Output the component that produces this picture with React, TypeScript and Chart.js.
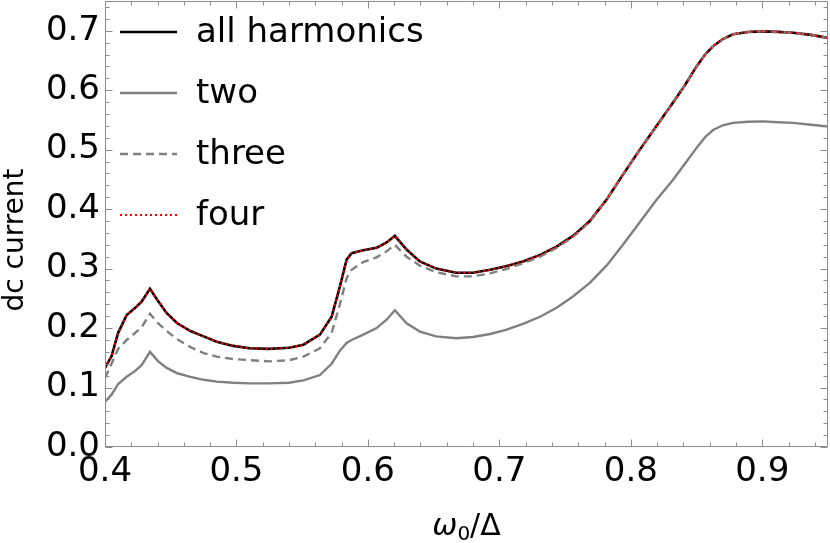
import { useEffect, useRef } from 'react';
import { Chart, registerables } from 'chart.js';

Chart.register(...registerables);

// x values (omega_0 / Delta)
const omega = [
  0.400, 0.405, 0.410, 0.4165, 0.423, 0.428, 0.4342, 0.4405, 0.447, 0.455,
  0.465, 0.475, 0.485, 0.4975, 0.510, 0.525, 0.540, 0.551, 0.5635, 0.5724,
  0.5787, 0.5838, 0.5876, 0.5965, 0.6066, 0.6142, 0.6205, 0.6294, 0.6395, 0.652,
  0.667, 0.680, 0.693, 0.705, 0.718, 0.731, 0.7435, 0.756, 0.7688, 0.7815,
  0.794, 0.8068, 0.819, 0.832, 0.841, 0.850, 0.8565, 0.8626, 0.870, 0.8778,
  0.889, 0.9006, 0.912, 0.9234, 0.937, 0.950,
];

const allHarmonics = [
  0.133, 0.153, 0.192, 0.222, 0.234, 0.245, 0.266, 0.245, 0.225, 0.208,
  0.195, 0.186, 0.177, 0.170, 0.166, 0.165, 0.167, 0.172, 0.189, 0.219,
  0.270, 0.315, 0.326, 0.331, 0.335, 0.344, 0.355, 0.332, 0.312, 0.300,
  0.293, 0.293, 0.298, 0.304, 0.312, 0.323, 0.337, 0.355, 0.380, 0.416,
  0.458, 0.500, 0.538, 0.579, 0.608, 0.640, 0.660, 0.674, 0.686, 0.694,
  0.698, 0.699, 0.698, 0.6965, 0.693, 0.688,
];

const two = [
  0.076, 0.088, 0.106, 0.118, 0.128, 0.138, 0.160, 0.144, 0.133, 0.124,
  0.118, 0.113, 0.110, 0.108, 0.107, 0.107, 0.108, 0.112, 0.121, 0.140,
  0.162, 0.175, 0.180, 0.189, 0.200, 0.214, 0.230, 0.208, 0.194, 0.186,
  0.183, 0.185, 0.190, 0.197, 0.207, 0.219, 0.234, 0.253, 0.276, 0.305,
  0.340, 0.378, 0.414, 0.449, 0.476, 0.503, 0.521, 0.533, 0.541, 0.545,
  0.547, 0.5475, 0.546, 0.545, 0.542, 0.539,
];

const three = [
  0.116, 0.140, 0.165, 0.180, 0.192, 0.202, 0.224, 0.208, 0.195, 0.181,
  0.168, 0.158, 0.152, 0.148, 0.146, 0.144, 0.146, 0.152, 0.166, 0.192,
  0.240, 0.284, 0.298, 0.311, 0.319, 0.329, 0.340, 0.320, 0.305, 0.294,
  0.287, 0.287, 0.292, 0.299, 0.309, 0.320, 0.335, 0.353, 0.379, 0.416,
  0.458, 0.500, 0.538, 0.579, 0.608, 0.640, 0.660, 0.674, 0.686, 0.694,
  0.698, 0.699, 0.698, 0.6965, 0.693, 0.688,
];

const four = [
  0.133, 0.153, 0.192, 0.222, 0.234, 0.245, 0.266, 0.245, 0.225, 0.208,
  0.195, 0.186, 0.177, 0.170, 0.166, 0.165, 0.167, 0.172, 0.189, 0.219,
  0.270, 0.315, 0.326, 0.331, 0.335, 0.344, 0.355, 0.332, 0.312, 0.300,
  0.293, 0.293, 0.298, 0.304, 0.312, 0.323, 0.337, 0.355, 0.380, 0.416,
  0.458, 0.500, 0.538, 0.579, 0.608, 0.640, 0.660, 0.674, 0.686, 0.694,
  0.698, 0.699, 0.698, 0.6965, 0.693, 0.688,
];

const seriesLabels = ['all harmonics', 'two', 'three', 'four'];
const xTickValues = [0.4, 0.5, 0.6, 0.7, 0.8, 0.9];
const yTickValues = [0.0, 0.1, 0.2, 0.3, 0.4, 0.5, 0.6, 0.7];
const xMin = 0.4;
const xMax = 0.95;
const yMin = 0;
const yMax = 0.75;
const yTitle = 'dc current';
const xTitleMain = 'ω';
const xTitleSub = '0';
const xTitleRest = '/Δ';

const FONT = '"DejaVu Sans", sans-serif';

const toPoints = (vals: number[]) => omega.map((x, i) => ({ x, y: vals[i] }));

const decorPlugin = {
  id: 'decor',
  afterDatasetsDraw(chart: any) {
    const { ctx, chartArea, scales } = chart;
    const { left, right, top, bottom } = chartArea;
    const xs = scales.x;
    const ys = scales.y;
    ctx.save();
    // frame
    ctx.strokeStyle = '#8c8c8c';
    ctx.lineWidth = 1;
    const L = Math.round(left) + 0.5;
    const R = Math.round(right) - 0.5;
    const T = Math.round(top) + 0.5;
    const B = Math.round(bottom) - 0.5;
    ctx.beginPath();
    ctx.rect(L, T, R - L, B - T);
    ctx.stroke();
    // ticks (major every 0.1, minor every 0.02)
    ctx.beginPath();
    for (let k = 0; k <= 27; k++) {
      const v = xMin + k * 0.02;
      const px = Math.round(xs.getPixelForValue(v)) + 0.5;
      const len = k % 5 === 0 ? 7 : 4;
      ctx.moveTo(px, B);
      ctx.lineTo(px, B - len);
      ctx.moveTo(px, T);
      ctx.lineTo(px, T + len);
    }
    for (let k = 0; k <= 37; k++) {
      const v = yMin + k * 0.02;
      const py = Math.round(ys.getPixelForValue(v)) + 0.5;
      const len = k % 5 === 0 ? 7 : 4;
      ctx.moveTo(L, py);
      ctx.lineTo(L + len, py);
      ctx.moveTo(R, py);
      ctx.lineTo(R - len, py);
    }
    ctx.stroke();

    // legend
    const datasets = chart.data.datasets;
    for (let i = 0; i < datasets.length; i++) {
      const ds = datasets[i];
      const ly = top + 31 + i * 61;
      ctx.beginPath();
      ctx.strokeStyle = ds.borderColor;
      ctx.lineWidth = ds.borderWidth;
      ctx.setLineDash(ds.borderDash || []);
      ctx.lineCap = 'butt';
      ctx.moveTo(left + 15, ly);
      ctx.lineTo(left + 72, ly);
      ctx.stroke();
      ctx.setLineDash([]);
      ctx.fillStyle = '#000';
      ctx.font = `34px ${FONT}`;
      ctx.textAlign = 'left';
      ctx.textBaseline = 'alphabetic';
      ctx.fillText(ds.label, left + 91, ly + 10);
    }

    // y title
    ctx.save();
    ctx.translate(23, 240);
    ctx.rotate(-Math.PI / 2);
    ctx.font = `28px ${FONT}`;
    ctx.fillStyle = '#000';
    ctx.textAlign = 'center';
    ctx.textBaseline = 'alphabetic';
    ctx.fillText(yTitle, 0, 0);
    ctx.restore();

    // x title
    const mainFont = `oblique 30px ${FONT}`;
    const subFont = `20px ${FONT}`;
    const restFont = `30px ${FONT}`;
    ctx.font = mainFont;
    const w1 = ctx.measureText(xTitleMain).width;
    ctx.font = subFont;
    const w2 = ctx.measureText(xTitleSub).width;
    ctx.font = restFont;
    const w3 = ctx.measureText(xTitleRest).width;
    const total = w1 + w2 + w3;
    const cx = (left + right) / 2;
    let x0 = cx - total / 2;
    const base = 535;
    ctx.textAlign = 'left';
    ctx.fillStyle = '#000';
    ctx.font = mainFont;
    ctx.fillText(xTitleMain, x0, base);
    x0 += w1;
    ctx.font = subFont;
    ctx.fillText(xTitleSub, x0, base + 5);
    x0 += w2;
    ctx.font = restFont;
    ctx.fillText(xTitleRest, x0, base);
    ctx.restore();
  },
};

export default function App() {
  const canvasRef = useRef<HTMLCanvasElement | null>(null);

  useEffect(() => {
    const canvas = canvasRef.current;
    if (!canvas) return;
    const chart = new Chart(canvas, {
      type: 'line',
      data: {
        datasets: [
          {
            label: seriesLabels[0],
            data: toPoints(allHarmonics),
            borderColor: '#000000',
            borderWidth: 2.6,
            borderDash: [],
            pointRadius: 0,
            tension: 0,
            fill: false,
            order: 4,
          },
          {
            label: seriesLabels[1],
            data: toPoints(two),
            borderColor: '#808080',
            borderWidth: 2.4,
            borderDash: [],
            pointRadius: 0,
            tension: 0,
            fill: false,
            order: 3,
          },
          {
            label: seriesLabels[2],
            data: toPoints(three),
            borderColor: '#808080',
            borderWidth: 2.4,
            borderDash: [8, 5],
            pointRadius: 0,
            tension: 0,
            fill: false,
            order: 2,
          },
          {
            label: seriesLabels[3],
            data: toPoints(four),
            borderColor: '#ff0000',
            borderWidth: 2,
            borderDash: [2, 3],
            pointRadius: 0,
            tension: 0,
            fill: false,
            order: 1,
          },
        ],
      },
      options: {
        responsive: false,
        animation: false,
        devicePixelRatio: 1,
        layout: { padding: { top: 1, right: 2, left: 0, bottom: 0 } },
        plugins: {
          legend: { display: false },
          tooltip: { enabled: false },
        },
        scales: {
          x: {
            type: 'linear',
            min: xMin,
            max: xMax,
            grid: { display: false, drawTicks: false },
            border: { display: false },
            afterBuildTicks: (scale: any) => {
              scale.ticks = xTickValues.map((v) => ({ value: v }));
            },
            afterFit: (scale: any) => {
              scale.height = 96;
              scale.paddingLeft = 0;
              scale.paddingRight = 0;
              scale.paddingTop = 0;
              scale.paddingBottom = 0;
            },
            ticks: {
              autoSkip: false,
              maxRotation: 0,
              padding: 5,
              color: '#000',
              font: { family: FONT, size: 34 },
              callback: (v: any) => Number(v).toFixed(1),
            },
          },
          y: {
            type: 'linear',
            min: yMin,
            max: yMax,
            grid: { display: false, drawTicks: false },
            border: { display: false },
            afterBuildTicks: (scale: any) => {
              scale.ticks = yTickValues.map((v) => ({ value: v }));
            },
            afterFit: (scale: any) => {
              scale.width = 105;
              scale.paddingLeft = 0;
              scale.paddingRight = 0;
              scale.paddingTop = 0;
              scale.paddingBottom = 0;
            },
            ticks: {
              autoSkip: false,
              padding: 5,
              color: '#000',
              font: { family: FONT, size: 34 },
              callback: (v: any) => Number(v).toFixed(1),
            },
          },
        },
      },
      plugins: [decorPlugin],
    });
    return () => chart.destroy();
  }, []);

  return (
    <div style={{ position: 'absolute', left: 0, top: 0, width: 830, height: 543, background: '#fff' }}>
      <canvas ref={canvasRef} width={830} height={543} style={{ width: 830, height: 543 }} />
    </div>
  );
}
